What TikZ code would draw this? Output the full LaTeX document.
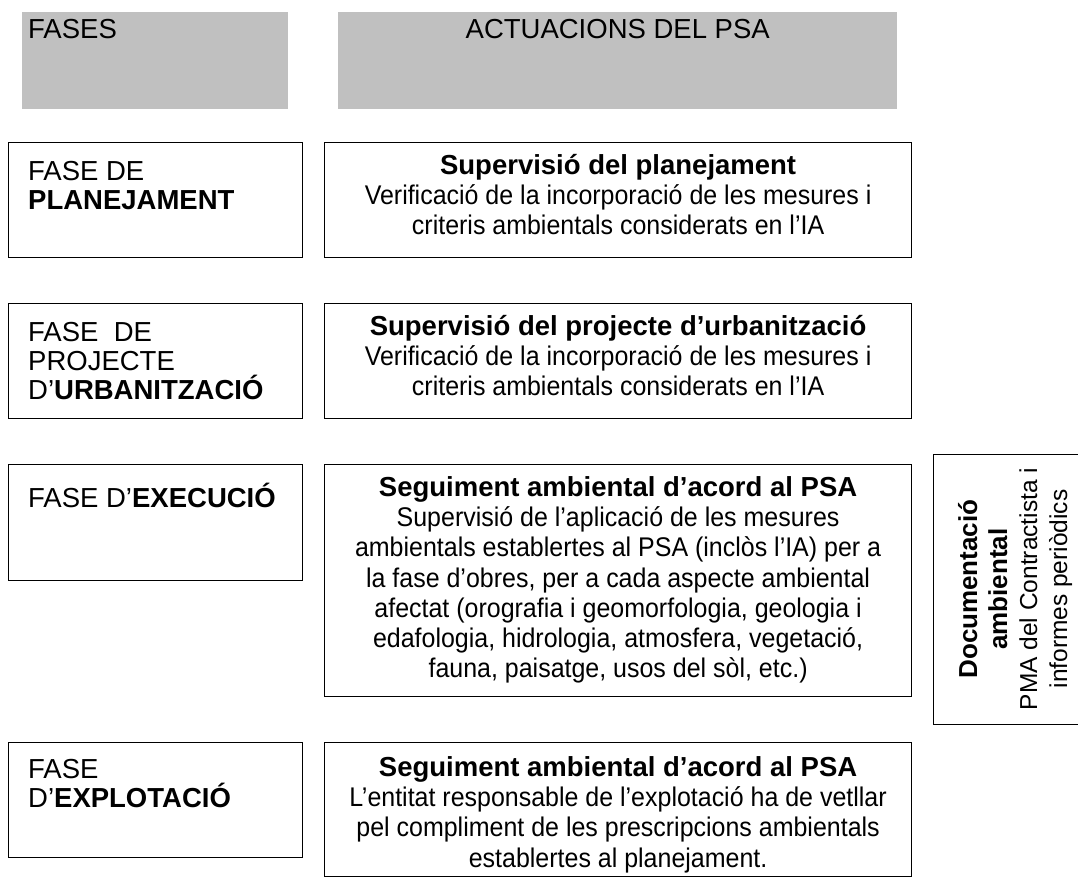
\documentclass[tikz,border=0pt]{standalone}
\usepackage{fontspec}
\setmainfont{Liberation Sans}
\newfontfamily\estreta[FakeStretch=0.925]{Liberation Sans}
\usetikzlibrary{positioning}
\definecolor{grisCap}{RGB}{192,192,192}
\newcommand{\titol}[1]{{\fontsize{27.5}{30}\selectfont\rmfamily\bfseries #1}}

\begin{document}
\begin{tikzpicture}[x=1pt, y=-1pt,
  hdr/.style={rectangle, fill=grisCap, minimum height=97pt,
    anchor=north west, inner sep=0pt},
  fase/.style={rectangle, draw=black, line width=1.2pt,
    minimum width=294pt, anchor=north west, inner sep=0pt},
  act/.style={rectangle, draw=black, line width=1.2pt,
    minimum width=587pt, anchor=north west, inner sep=0pt},
  lbl/.style={font=\fontsize{27.5}{29}\selectfont, inner sep=0pt, align=left},
  ctr/.style={font=\estreta\fontsize{27}{30.3}\selectfont, inner sep=0pt,
    align=center},
]
\useasboundingbox (0,0) rectangle (1078,878);
\clip (0,0) rectangle (1078,878);
% capcaleres
\node[hdr, minimum width=266pt] (hFases) at (22,12) {};
\node[hdr, minimum width=559pt] (hActs)  at (338,12) {};
\node[lbl, below right=7pt and 6pt of hFases.north west] {FASES};
\node[lbl, below=7pt of hActs.north] {ACTUACIONS DEL PSA};
% fases
\node[fase, minimum height=115pt] (fPlan) at (8,142) {};
\node[fase, minimum height=115pt] (fUrb)  at (8,303) {};
\node[fase, minimum height=116pt] (fExe)  at (8,464) {};
\node[fase, minimum height=115pt] (fExp)  at (8,742) {};
\node[lbl, below right=19pt and 20pt of fPlan.north west]
  {FASE DE\\\textbf{PLANEJAMENT}};
\node[lbl, below right=19pt and 20pt of fUrb.north west]
  {FASE\ \ DE\\PROJECTE\\D’\textbf{URBANITZACIÓ}};
\node[lbl, below right=19pt and 20pt of fExe.north west]
  {FASE D’\textbf{EXECUCIÓ}};
\node[lbl, below right=17pt and 20pt of fExp.north west]
  {FASE\\D’\textbf{EXPLOTACIÓ}};
% actuacions
\node[act, minimum height=115pt] (aPlan) at (324,142) {};
\node[act, minimum height=115pt] (aUrb)  at (324,303) {};
\node[act, minimum height=232pt] (aExe)  at (324,464) {};
\node[act, minimum height=134pt] (aExp)  at (324,742) {};
\node[ctr, below=12pt of aPlan.north]
  {\titol{Supervisió del planejament}\\
   Verificació de la incorporació de les mesures i\\
   criteris ambientals considerats en l’IA};
\node[ctr, below=12pt of aUrb.north]
  {\titol{Supervisió del projecte d’urbanització}\\
   Verificació de la incorporació de les mesures i\\
   criteris ambientals considerats en l’IA};
\node[ctr, below=12pt of aExe.north]
  {\titol{Seguiment ambiental d’acord al PSA}\\
   Supervisió de l’aplicació de les mesures\\
   ambientals establertes al PSA (inclòs l’IA) per a\\
   la fase d’obres, per a cada aspecte ambiental\\
   afectat (orografia i geomorfologia, geologia i\\
   edafologia, hidrologia, atmosfera, vegetació,\\
   fauna, paisatge, usos del sòl, etc.)};
\node[ctr, below=14pt of aExp.north]
  {\titol{Seguiment ambiental d’acord al PSA}\\
   L’entitat responsable de l’explotació ha de vetllar\\
   pel compliment de les prescripcions ambientals\\
   establertes al planejament.};
% documentacio
\node[rectangle, draw=black, line width=1.2pt, anchor=north west,
  minimum width=162pt, minimum height=270pt] (doc) at (933,454) {};
\node[font=\fontsize{24.5}{30}\selectfont, inner sep=0pt, align=center,
  rotate=90] (docTxt) at (1015,589)
  {{\fontsize{26}{30}\selectfont\bfseries Documentació}\\
   {\fontsize{26}{30}\selectfont\bfseries ambiental}\\
   PMA del Contractista i\\informes periòdics};
\end{tikzpicture}
\end{document}
